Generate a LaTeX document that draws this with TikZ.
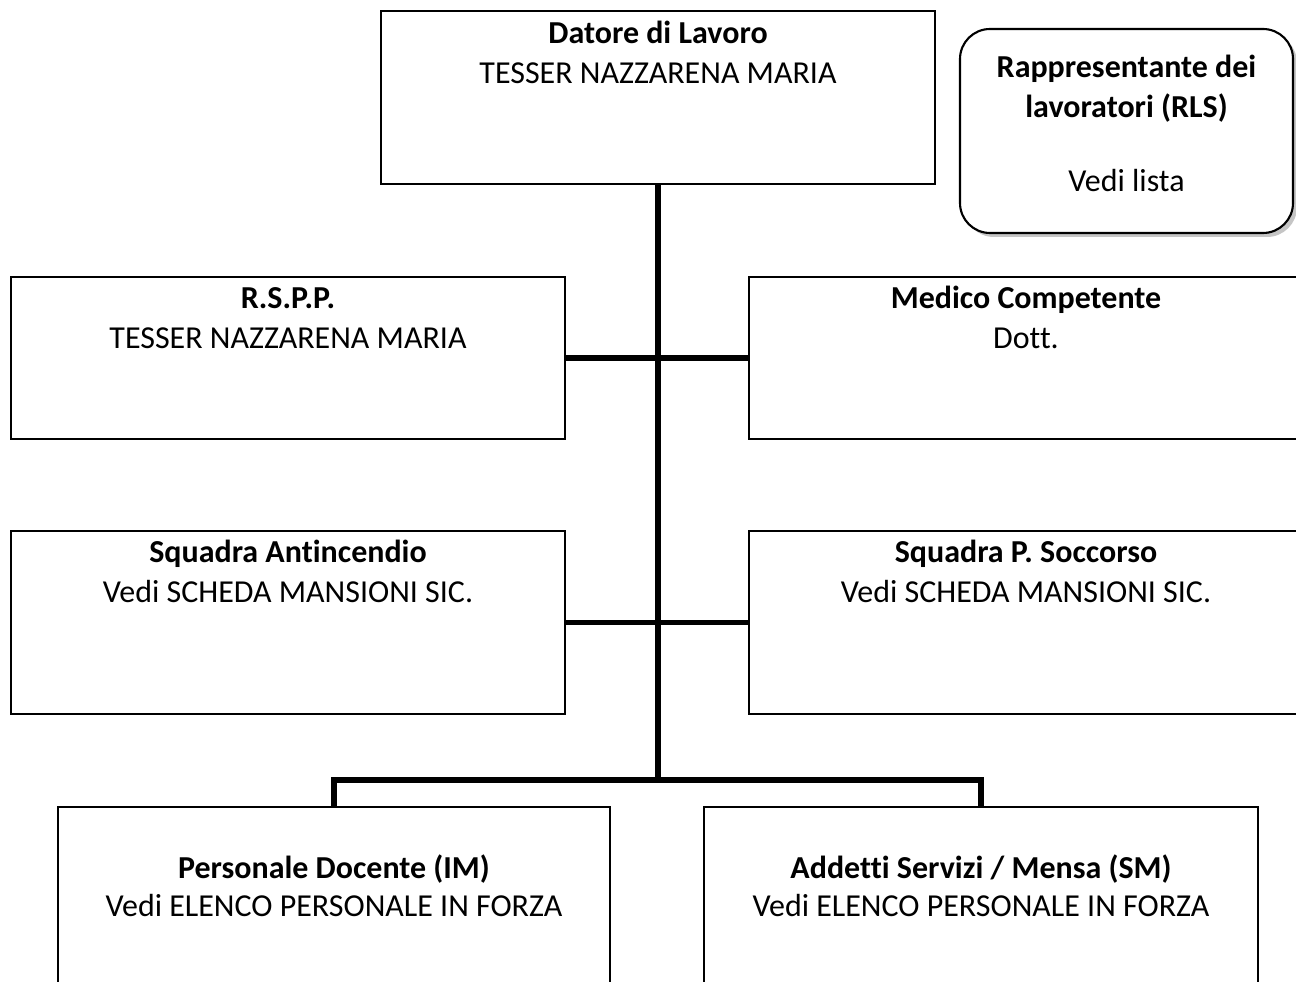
\documentclass[tikz,border=0pt]{standalone}
\usepackage{fontspec}
\setmainfont{Carlito}[Ligatures={NoCommon,TeX}]
\usepackage{tikz}
\usetikzlibrary{shadows}

\begin{document}
\begin{tikzpicture}[
	box/.style={draw,line width=0.6pt,fill=white,minimum width=5.54cm,inner sep=0pt},
	txt/.style={align=center,inner sep=0pt,font=\fontsize{9.1}{11.4}\selectfont},
	link/.style={line width=1.5pt}]
\clip (0,0) rectangle (12.96,-9.82);
\fill[white] (0,0) rectangle (12.96,-9.82);
\draw (6.58,-0.975) node[box,minimum height=1.73cm](Boss) {};
	\draw ([yshift=-0.74cm]Boss.north) node[txt,anchor=base](BossT) {\textbf{Datore di Lavoro}\\TESSER NAZZARENA MARIA};
\draw (11.265,-1.31) node[box,minimum width=3.33cm,minimum height=2.04cm,rounded corners=0.3cm,
	drop shadow={shadow xshift=0.04cm,shadow yshift=-0.04cm,fill=black!45}](Rls) {};
	\draw ([yshift=-1.64cm]Rls.north) node[txt,anchor=base](RlsT) {\textbf{Rappresentante dei}\\\textbf{lavoratori (RLS)}\\[9.9pt]Vedi lista};
\draw (2.88,-3.58) node[box,minimum height=1.62cm](Rspp) {};
	\draw ([yshift=-0.73cm]Rspp.north) node[txt,anchor=base](RsppT) {\textbf{R.S.P.P.}\\TESSER NAZZARENA MARIA};
\draw (10.26,-3.58) node[box,minimum height=1.62cm](Medico) {};
	\draw ([yshift=-0.73cm]Medico.north) node[txt,anchor=base](MedicoT) {\textbf{Medico Competente}\\Dott.};
\draw (2.88,-6.225) node[box,minimum height=1.83cm](Antinc) {};
	\draw ([yshift=-0.73cm]Antinc.north) node[txt,anchor=base](AntincT) {\textbf{Squadra Antincendio}\\Vedi SCHEDA MANSIONI SIC.};
\draw (10.26,-6.225) node[box,minimum height=1.83cm](Soccorso) {};
	\draw ([yshift=-0.73cm]Soccorso.north) node[txt,anchor=base](SoccorsoT) {\textbf{Squadra P. Soccorso}\\Vedi SCHEDA MANSIONI SIC.};
\draw (3.34,-9.07) node[box,minimum width=5.52cm,minimum height=2cm](Docente) {};
	\draw ([yshift=-1.11cm]Docente.north) node[txt,anchor=base,font=\fontsize{9.1}{10.8}\selectfont](DocenteT) {\textbf{Personale Docente (IM)}\\Vedi ELENCO PERSONALE IN FORZA};
\draw (9.81,-9.07) node[box,minimum height=2cm](Addetti) {};
	\draw ([yshift=-1.11cm]Addetti.north) node[txt,anchor=base,font=\fontsize{9.1}{10.8}\selectfont](AddettiT) {\textbf{Addetti Servizi / Mensa (SM)}\\Vedi ELENCO PERSONALE IN FORZA};
\coordinate (Bus) at (6.58,-7.80);

\draw[link] (Boss.south) -- (Bus);
\draw[link] (Rspp.east) -- (Medico.west);
\draw[link] (Antinc.east) -- (Soccorso.west);
\draw[link] (Docente.north) |- (Bus) -| (Addetti.north);
\end{tikzpicture}
\end{document}
